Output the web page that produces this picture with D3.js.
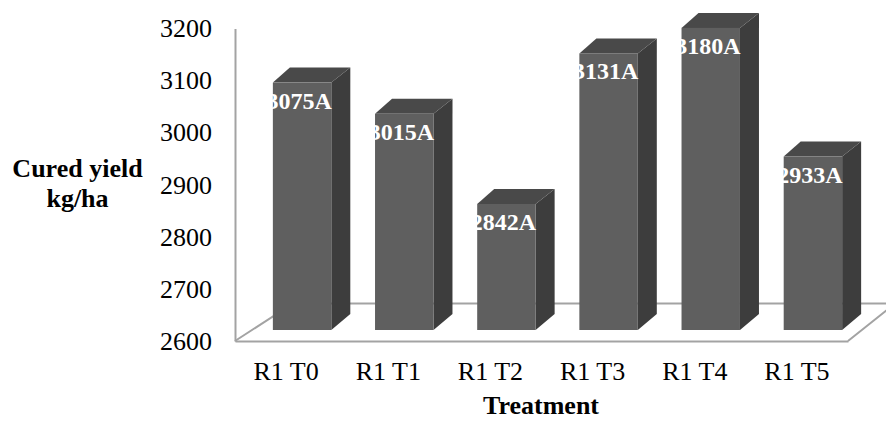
<!DOCTYPE html>
<html>
<head>
<meta charset="utf-8">
<script src="https://cdn.jsdelivr.net/npm/d3@7"></script>
<style>
	body { margin: 0; background: #fff; }
	text { font-family: "Liberation Serif", "Times New Roman", serif; }
</style>
</head>
<body>
<div id="chart"></div>
<script>
// data
const categories = ["R1 T0", "R1 T1", "R1 T2", "R1 T3", "R1 T4", "R1 T5"];
const yields = [3075, 3015, 2842, 3131, 3180, 2933];
const letters = ["A", "A", "A", "A", "A", "A"];
const yTicks = [2600, 2700, 2800, 2900, 3000, 3100, 3200];

const data = categories.map((c, i) => ({ cat: c, value: yields[i], letter: letters[i] }));

// set the dimensions of the graph
const width = 886, height = 421;
const floorLeft = 235, floorRight = 848, floorY = 341;

// the bars sit a bit behind the front floor edge
const barShift = { x: 16, y: 11 };
const depth = { dxL: 17, dx: 19, dyTop: 15, dyBot: 16 };

const svg = d3.select("#chart")
	.append("svg")
	.attr("width", width)
	.attr("height", height);

svg.append("rect")
	.attr("width", width)
	.attr("height", height)
	.attr("fill", "#fff");

// scales
const x = d3.scaleBand()
	.domain(categories)
	.range([floorLeft, floorRight])
	.padding(0);

const y = d3.scaleLinear()
	.domain([2600, 3200])
	.range([floorY, 28.5]);

// same scale, on the plane where the bar fronts stand
const yBar = d3.scaleLinear()
	.domain(y.domain())
	.range(y.range().map(d => d - barShift.y));

const barW = x.bandwidth() * 0.572;
const lineCol = "#a3a3a3";

// floor (side and back edges, the front edge comes from the x axis)
svg.append("path")
	.attr("d", `M${floorLeft},${floorY} L${floorLeft + 58},${floorY - 37.5} L${floorRight + 47},${floorY - 37.5} L${floorRight},${floorY}`)
	.attr("fill", "none")
	.attr("stroke", lineCol)
	.attr("stroke-width", 2);

// Y axis
const yAxis = svg.append("g")
	.attr("transform", `translate(${floorLeft},0)`)
	.call(d3.axisLeft(y).tickValues(yTicks).tickFormat(d3.format("d")).tickSize(0).tickPadding(23));

yAxis.select(".domain").attr("stroke", lineCol).attr("stroke-width", 2);
yAxis.selectAll("text")
	.attr("font-size", 26)
	.attr("fill", "#000")
	.style("font-family", "'Liberation Serif', 'Times New Roman', serif");

// X axis
const xAxis = svg.append("g")
	.attr("transform", `translate(0,${floorY})`)
	.call(d3.axisBottom(x).tickSize(0).tickSizeOuter(0).tickPadding(21));

xAxis.select(".domain").attr("stroke", lineCol).attr("stroke-width", 2);
xAxis.selectAll("text")
	.attr("font-size", 26)
	.attr("fill", "#000")
	.style("font-family", "'Liberation Serif', 'Times New Roman', serif");

// 3d bars
const bars = svg.append("g")
	.selectAll("g.bar")
	.data(data)
	.join("g")
	.attr("class", "bar");

const xl = d => x(d.cat) + x.bandwidth() / 2 + barShift.x - barW / 2;
const xr = d => xl(d) + barW;
const yT = d => yBar(d.value);
const yB = yBar(2600);

// side face
bars.append("path")
	.attr("d", d => `M${xr(d)},${yT(d)} L${xr(d) + depth.dx},${yT(d) - depth.dyTop} L${xr(d) + depth.dx},${yB - depth.dyBot} L${xr(d)},${yB}Z`)
	.attr("fill", "#3d3d3d");

// top face
bars.append("path")
	.attr("d", d => `M${xl(d)},${yT(d)} L${xl(d) + depth.dxL},${yT(d) - depth.dyTop} L${xr(d) + depth.dx},${yT(d) - depth.dyTop} L${xr(d)},${yT(d)}Z`)
	.attr("fill", "#494949");

// front face
bars.append("rect")
	.attr("x", d => xl(d))
	.attr("y", d => yT(d))
	.attr("width", barW)
	.attr("height", d => yB - yT(d))
	.attr("fill", "#5f5f5f");

// value labels
bars.append("text")
	.attr("x", d => xr(d) + 0.5)
	.attr("y", d => yT(d) + 26)
	.attr("text-anchor", "end")
	.attr("font-size", 24)
	.attr("font-weight", "bold")
	.attr("fill", "#fff")
	.text(d => d.value + d.letter);

// axis titles
const yTitle = svg.append("text")
	.attr("text-anchor", "middle")
	.attr("font-size", 26)
	.attr("font-weight", "bold")
	.attr("fill", "#000");

yTitle.append("tspan").attr("x", 77.5).attr("y", 177.3).text("Cured yield");
yTitle.append("tspan").attr("x", 77.5).attr("y", 206.7).text("kg/ha");

svg.append("text")
	.attr("x", 541)
	.attr("y", 414)
	.attr("text-anchor", "middle")
	.attr("font-size", 26)
	.attr("font-weight", "bold")
	.attr("fill", "#000")
	.text("Treatment");
</script>
</body>
</html>
